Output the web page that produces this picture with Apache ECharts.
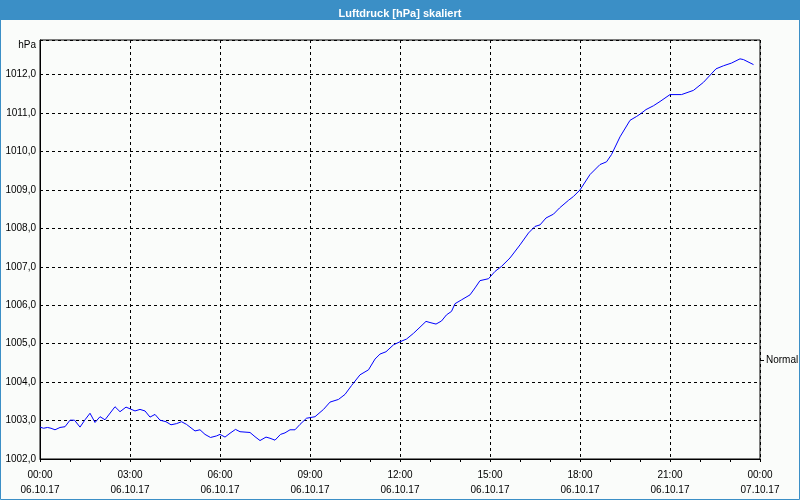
<!DOCTYPE html>
<html>
<head>
<meta charset="utf-8">
<script src="https://cdn.jsdelivr.net/npm/echarts@6/dist/echarts.min.js"></script>
<style>
html,body{margin:0;padding:0;background:#fafcfa;}
#chart{width:800px;height:500px;}
</style>
</head>
<body>
<div id="chart"></div>
<script>
// Measurement times (HH:MM, 06.10.17) and pressure values in hPa
const times = ["00:00","00:07","00:15","00:22","00:30","00:40","00:50","01:00","01:09","01:20",
  "01:30","01:40","01:50","02:00","02:10","02:30","02:40","02:52","03:01","03:10",
  "03:20","03:30","03:40","03:50","04:00","04:12","04:22","04:33","04:43","04:53",
  "05:10","05:20","05:30","05:41","05:53","06:00","06:10","06:20","06:31","06:40",
  "07:00","07:10","07:20","07:32","07:40","07:50","08:01","08:10","08:20","08:30",
  "08:40","08:53","09:10","09:27","09:40","09:57","10:10","10:23","10:40","10:57",
  "11:10","11:20","11:32","11:47","12:00","12:13","12:27","12:40","12:52","13:00",
  "13:12","13:23","13:33","13:43","13:50","14:03","14:20","14:30","14:40","14:57",
  "15:10","15:23","15:40","16:00","16:17","16:30","16:40","16:52","17:07","17:19",
  "17:37","17:47","18:00","18:20","18:40","18:53","19:03","19:20","19:40","19:53",
  "20:00","20:12","20:27","20:40","21:00","21:23","21:47","22:07","22:32","22:47",
  "23:03","23:20","23:27","23:47"];
const pressure = [1002.83,1002.80,1002.82,1002.80,1002.76,1002.82,1002.84,1003.01,1003.01,1002.83,
  1003.02,1003.19,1002.95,1003.10,1003.02,1003.36,1003.23,1003.35,1003.30,1003.25,
  1003.29,1003.25,1003.09,1003.16,1003.01,1002.97,1002.89,1002.92,1002.97,1002.90,
  1002.73,1002.76,1002.64,1002.56,1002.60,1002.64,1002.57,1002.67,1002.77,1002.71,
  1002.69,1002.58,1002.48,1002.57,1002.54,1002.49,1002.64,1002.68,1002.76,1002.76,
  1002.90,1003.06,1003.10,1003.29,1003.48,1003.55,1003.68,1003.91,1004.19,1004.32,
  1004.60,1004.73,1004.79,1004.97,1005.05,1005.12,1005.27,1005.43,1005.58,1005.55,
  1005.51,1005.59,1005.75,1005.84,1006.04,1006.14,1006.27,1006.45,1006.64,1006.69,
  1006.88,1007.01,1007.23,1007.57,1007.88,1008.05,1008.09,1008.27,1008.37,1008.53,
  1008.73,1008.83,1009.00,1009.40,1009.66,1009.73,1009.92,1010.38,1010.81,1010.91,
  1010.97,1011.09,1011.19,1011.30,1011.48,1011.48,1011.59,1011.80,1012.15,1012.23,
  1012.30,1012.41,1012.39,1012.26];
// X tick labels (every 3 hours)
const timeLabels = ["00:00","03:00","06:00","09:00","12:00","15:00","18:00","21:00","00:00"];
const dateLabels = ["06.10.17","06.10.17","06.10.17","06.10.17","06.10.17","06.10.17","06.10.17","06.10.17","07.10.17"];

const toHours = s => { const p = s.split(':'); return +p[0] + (+p[1]) / 60; };
const data = times.map((t, i) => [toHours(t), pressure[i]]);

const font = '"Liberation Sans", Arial, sans-serif';
const chart = echarts.init(document.getElementById('chart'), null, {renderer: 'canvas'});
chart.setOption({
  animation: false,
  backgroundColor: '#fafcfa',
  title: {
    text: 'Luftdruck [hPa] skaliert',
    left: 'center', top: 3,
    textStyle: {color: '#ffffff', fontSize: 11, fontWeight: 'bold', fontFamily: font}
  },
  grid: {left: 40, right: 40, top: 40, bottom: 41, show: true, borderColor: '#000', borderWidth: 1, backgroundColor: 'transparent'},
  xAxis: {
    type: 'value', min: 0, max: 24, interval: 3,
    axisLine: {show: true, lineStyle: {color: '#000', width: 1}},
    axisTick: {show: true, length: 3, lineStyle: {color: '#000'}},
    minorTick: {show: true, splitNumber: 3, length: 3, lineStyle: {color: '#000'}},
    splitLine: {show: true, lineStyle: {color: '#000', type: [3, 3], width: 1}},
    axisLabel: {
      margin: 9, color: '#000', fontSize: 10, fontFamily: font, lineHeight: 15,
      formatter: v => { const i = Math.round(v / 3); return timeLabels[i] + '\n' + dateLabels[i]; }
    }
  },
  yAxis: {
    type: 'value', min: 1002, max: 1012.9, interval: 1,
    axisLine: {show: true, lineStyle: {color: '#000', width: 1}},
    axisTick: {show: false},
    splitLine: {show: true, lineStyle: {color: '#000', type: [3, 3], width: 1}},
    axisLabel: {
      margin: 4, color: '#000', fontSize: 10, fontFamily: font, showMaxLabel: false,
      formatter: v => (Math.abs(v - Math.round(v)) < 1e-6 ? v.toFixed(1).replace('.', ',') : '')
    }
  },
  series: [{
    type: 'line', data: data, showSymbol: false, symbol: 'none',
    lineStyle: {color: '#0000ff', width: 1}, z: 5
  }],
  graphic: [
    {type: 'rect', z: -1, shape: {x: 0, y: 0, width: 800, height: 20}, style: {fill: '#3b8fc6'}},
    {type: 'rect', z: 100, shape: {x: 0.5, y: 0.5, width: 799, height: 499}, style: {fill: null, stroke: '#3b8fc6', lineWidth: 1}},
    {type: 'text', z: 100, style: {text: 'hPa', x: 36, y: 45, textAlign: 'right', textVerticalAlign: 'middle', fill: '#000', font: '10px ' + font}},
    {type: 'line', z: 100, shape: {x1: 760, y1: 360.5, x2: 764, y2: 360.5}, style: {stroke: '#000', lineWidth: 1}},
    {type: 'text', z: 100, style: {text: 'Normal', x: 766, y: 360, textAlign: 'left', textVerticalAlign: 'middle', fill: '#000', font: '10px ' + font}}
  ]
});
</script>
</body>
</html>
